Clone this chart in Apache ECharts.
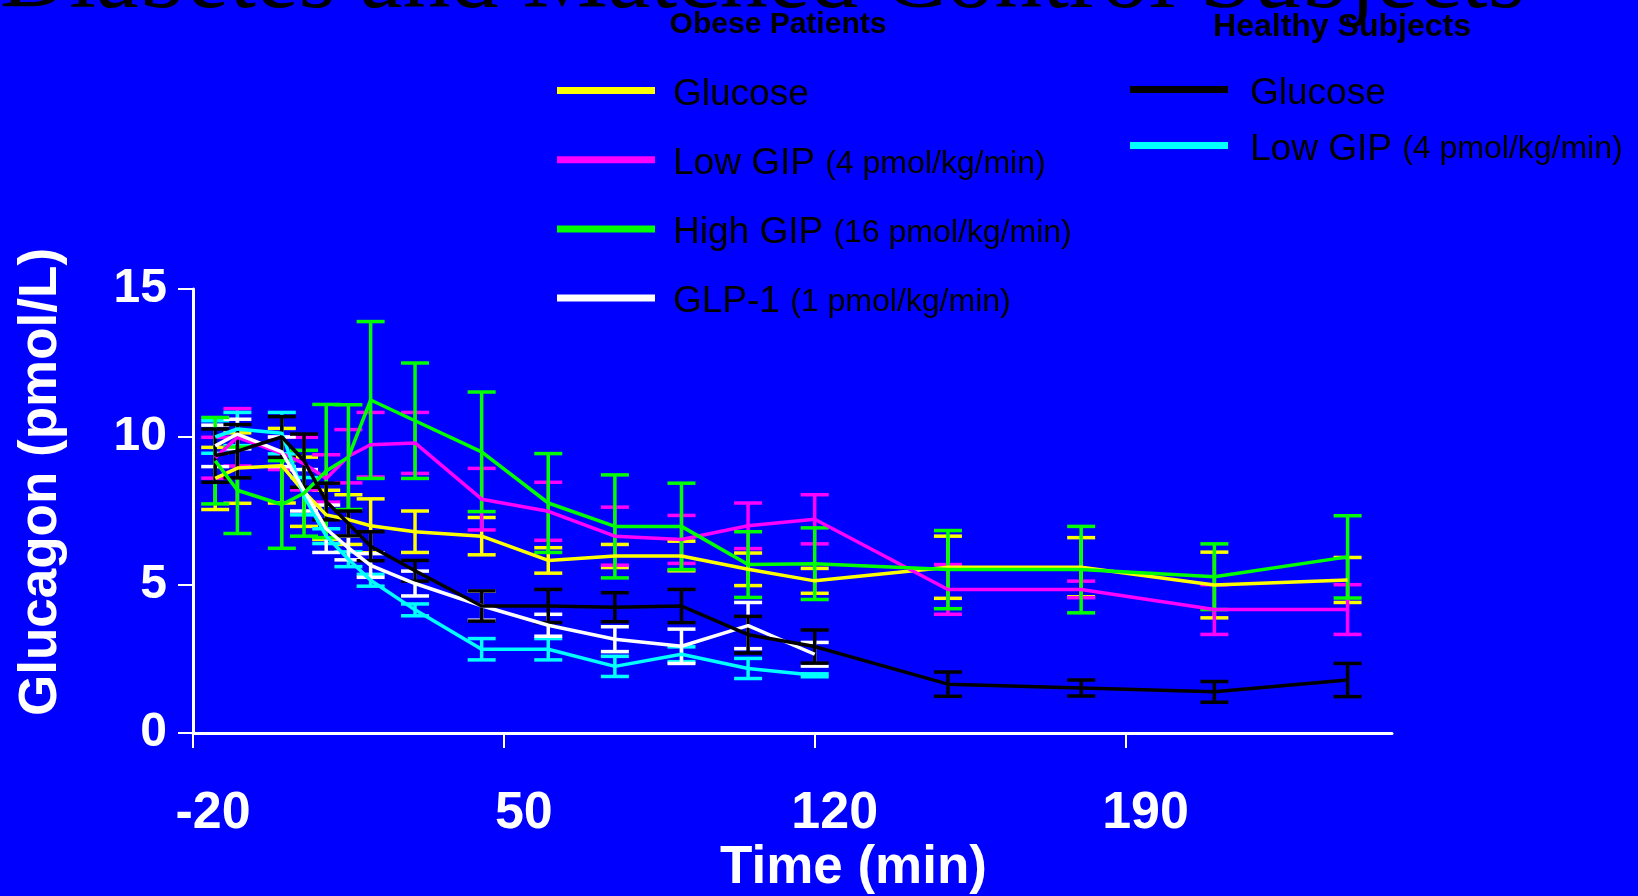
<!DOCTYPE html>
<html>
<head>
    <meta charset="utf-8">
    <title>Glucagon - Diabetes and Matched Control Subjects</title>
    <script src="https://cdn.jsdelivr.net/npm/echarts@6/dist/echarts.min.js"></script>
    <style>
        html, body { margin: 0; padding: 0; background: #0000ff; }
        #chart_div { width: 1638px; height: 896px; }
    </style>
</head>
<body>
    <div id="chart_div"></div>

    <script>
        // sampling times (min)
        const times = [-15, -10, 0, 5, 10, 15, 20, 30, 45, 60, 75, 90, 105, 120, 150, 180, 210, 240];
        const timesTo120 = [-15, -10, 0, 5, 10, 15, 20, 30, 45, 60, 75, 90, 105, 120];
        const xTicks = [-20, 50, 120, 190];
        const yTicks = [0, 5, 10, 15];

        // obese patients (mean and SEM, pmol/L)
        const obeseGlucose    = [8.6, 8.95, 9.03, 8.15, 7.37, 7.21, 7.0, 6.8, 6.65, 5.83, 5.98, 5.98, 5.53, 5.14, 5.6, 5.6, 5.0, 5.17];
        const obeseGlucoseSem = [1.05, 1.19, 1.26, 1.17, 0.83, 0.84, 0.91, 0.7, 0.63, 0.43, 0.39, 0.5, 0.55, 0.42, 1.05, 1.0, 1.11, 0.76];
        const obeseLowGip     = [9.3, 9.99, 9.45, 9.1, 8.6, 9.35, 9.74, 9.8, 7.9, 7.49, 6.65, 6.54, 7.0, 7.22, 4.85, 4.85, 4.17, 4.17];
        const obeseLowGipSem  = [0.69, 0.97, 0.55, 0.89, 0.8, 0.9, 1.09, 1.03, 1.04, 0.98, 0.98, 0.81, 0.77, 0.83, 0.84, 0.28, 0.84, 0.84];
        const obeseHighGip    = [9.2, 8.2, 7.72, 8.1, 8.85, 9.32, 11.25, 10.55, 9.5, 7.77, 6.98, 6.98, 5.69, 5.72, 5.52, 5.52, 5.28, 5.95];
        const obeseHighGipSem = [1.46, 1.46, 1.48, 1.45, 2.25, 1.77, 2.65, 1.95, 2.02, 1.67, 1.74, 1.46, 1.11, 1.21, 1.32, 1.46, 1.11, 1.39];
        const obeseGlp1       = [9.7, 10.1, 9.5, 8.2, 6.9, 6.25, 5.66, 5.05, 4.3, 3.64, 3.17, 2.93, 3.63, 2.66];
        const obeseGlp1Sem    = [0.7, 0.5, 0.5, 0.7, 0.8, 0.4, 0.4, 0.42, 0.49, 0.37, 0.42, 0.58, 0.78, 0.4];

        // healthy subjects
        const healthyGlucose    = [9.37, 9.52, 10.0, 9.2, 7.82, 7.08, 6.31, 5.48, 4.29, 4.29, 4.25, 4.29, 3.32, 2.92, 1.65, 1.52, 1.39, 1.79];
        const healthyGlucoseSem = [0.9, 0.9, 0.69, 0.9, 0.62, 0.42, 0.49, 0.35, 0.51, 0.56, 0.49, 0.56, 0.62, 0.56, 0.41, 0.27, 0.35, 0.56];
        const healthyLowGip     = [10.0, 10.27, 10.13, 8.0, 6.65, 5.87, 5.16, 4.16, 2.83, 2.83, 2.25, 2.66, 2.18, 1.95];
        const healthyLowGipSem  = [0.55, 0.56, 0.7, 0.63, 0.25, 0.25, 0.2, 0.2, 0.36, 0.36, 0.34, 0.25, 0.34, 0.05];

        // legend labels
        const obeseLabels   = ['Glucose', 'Low GIP', 'High GIP', 'GLP-1'];
        const obeseDoses    = ['', '(4 pmol/kg/min)', '(16 pmol/kg/min)', '(1 pmol/kg/min)'];
        const healthyLabels = ['Glucose', 'Low GIP'];
        const healthyDoses  = ['', '(4 pmol/kg/min)'];

        const sans = 'Arial, "Liberation Sans", Helvetica, sans-serif';
        const serif = 'Liberation Serif';

        const groups = [
            { name: 'Obese: Glucose',   label: obeseLabels[0], dose: obeseDoses[0], x: times,      y: obeseGlucose,   sem: obeseGlucoseSem,   color: '#ffff00' },
            { name: 'Obese: Low GIP',   label: obeseLabels[1], dose: obeseDoses[1], x: times,      y: obeseLowGip,    sem: obeseLowGipSem,    color: '#ff00ff' },
            { name: 'Healthy: Low GIP', label: healthyLabels[1], dose: healthyDoses[1], x: timesTo120, y: healthyLowGip, sem: healthyLowGipSem, color: '#00ffff' },
            { name: 'Obese: GLP-1',     label: obeseLabels[3], dose: obeseDoses[3], x: timesTo120, y: obeseGlp1,      sem: obeseGlp1Sem,      color: '#ffffff' },
            { name: 'Obese: High GIP',  label: obeseLabels[2], dose: obeseDoses[2], x: times,      y: obeseHighGip,   sem: obeseHighGipSem,   color: '#00ff00' },
            { name: 'Healthy: Glucose', label: healthyLabels[0], dose: healthyDoses[0], x: times,  y: healthyGlucose, sem: healthyGlucoseSem, color: '#000000' }
        ];

        const labelByName = {};
        groups.forEach(g => { labelByName[g.name] = g; });

        function legendText(name) {
            const g = labelByName[name];
            return g.dose ? '{n|' + g.label + ' }{d|' + g.dose + '}' : '{n|' + g.label + '}';
        }

        function errorBarItem(params, api) {
            const x = api.value(0);
            const lo = api.coord([x, api.value(1)]);
            const hi = api.coord([x, api.value(2)]);
            const color = api.visual('color');
            const half = 14;
            const style = { stroke: color, lineWidth: 3.5 };
            return {
                type: 'group',
                children: [
                    { type: 'line', shape: { x1: lo[0], y1: lo[1], x2: hi[0], y2: hi[1] }, style: style },
                    { type: 'line', shape: { x1: lo[0] - half, y1: lo[1], x2: lo[0] + half, y2: lo[1] }, style: style },
                    { type: 'line', shape: { x1: hi[0] - half, y1: hi[1], x2: hi[0] + half, y2: hi[1] }, style: style }
                ]
            };
        }

        const series = [];
        groups.forEach(g => {
            series.push({
                name: g.name + ' SEM',
                type: 'custom',
                renderItem: errorBarItem,
                itemStyle: { color: g.color },
                encode: { x: 0, y: [1, 2] },
                data: g.x.map((t, i) => [t, g.y[i] - g.sem[i], g.y[i] + g.sem[i]]),
                z: 2
            });
            series.push({
                name: g.name,
                type: 'line',
                symbol: 'none',
                itemStyle: { color: g.color },
                lineStyle: { color: g.color, width: 3.5 },
                data: g.x.map((t, i) => [t, g.y[i]]),
                z: 2
            });
        });

        function legendStyle(leftPad) {
            return {
                color: '#000',
                fontFamily: sans,
                padding: [8, 0, 0, leftPad],
                rich: {
                    n: { fontSize: 37, lineHeight: 40, fontFamily: sans, color: '#000' },
                    d: { fontSize: 32, lineHeight: 40, fontFamily: sans, color: '#000' }
                }
            };
        }

        const myChart = echarts.init(document.getElementById('chart_div'));

        const option = {
            backgroundColor: '#0000ff',
            animation: false,
            title: [
                {
                    text: 'Diabetes and Matched Control Subjects',
                    left: 0,
                    top: -66,
                    padding: 0,
                    textStyle: { color: '#000', fontSize: 96, fontWeight: 'normal', fontFamily: serif }
                },
                {
                    text: 'Obese Patients',
                    left: 778,
                    textAlign: 'center',
                    top: 10,
                    padding: 0,
                    textStyle: { color: '#000', fontSize: 30, fontWeight: 'bold', fontFamily: sans }
                },
                {
                    text: 'Healthy Subjects',
                    left: 1342,
                    textAlign: 'center',
                    top: 11,
                    padding: 0,
                    textStyle: { color: '#000', fontSize: 32, fontWeight: 'bold', fontFamily: sans }
                }
            ],
            legend: [
                {
                    data: ['Obese: Glucose', 'Obese: Low GIP', 'Obese: High GIP', 'Obese: GLP-1'],
                    orient: 'vertical',
                    left: 557,
                    top: 76,
                    itemGap: 32.2,
                    icon: 'rect',
                    itemWidth: 98,
                    itemHeight: 7,
                    padding: 0,
                    formatter: legendText,
                    textStyle: legendStyle(13)
                },
                {
                    data: ['Healthy: Glucose', 'Healthy: Low GIP'],
                    orient: 'vertical',
                    left: 1130,
                    top: 75,
                    itemGap: 19,
                    icon: 'rect',
                    itemWidth: 98,
                    itemHeight: 7,
                    padding: 0,
                    formatter: legendText,
                    textStyle: legendStyle(17)
                }
            ],
            grid: {
                left: 193,
                right: 246,
                top: 289,
                bottom: 162
            },
            xAxis: {
                type: 'value',
                min: -20,
                max: 250,
                interval: 70,
                name: 'Time (min)',
                nameLocation: 'middle',
                nameGap: 109,
                nameTextStyle: { color: '#fff', fontSize: 53, fontWeight: 'bold', fontFamily: sans, padding: [0, 0, 0, 122] },
                axisLine: { show: true, onZero: false, lineStyle: { color: '#fff', width: 3 } },
                axisTick: { show: true, length: 15, customValues: xTicks, lineStyle: { color: '#fff', width: 2 } },
                axisLabel: {
                    customValues: xTicks,
                    color: '#fff',
                    fontSize: 52,
                    fontWeight: 'bold',
                    fontFamily: sans,
                    margin: 55,
                    padding: [0, 0, 0, 40]
                },
                splitLine: { show: false }
            },
            yAxis: {
                type: 'value',
                min: 0,
                max: 15,
                interval: 5,
                name: 'Glucagon (pmol/L)',
                nameLocation: 'middle',
                nameRotate: 90,
                nameGap: 125,
                nameTextStyle: { color: '#fff', fontSize: 53, fontWeight: 'bold', fontFamily: sans, padding: [0, 0, 0, 58] },
                axisLine: { show: true, onZero: false, lineStyle: { color: '#fff', width: 3 } },
                axisTick: { show: true, length: 15, customValues: yTicks, lineStyle: { color: '#fff', width: 2 } },
                axisLabel: {
                    customValues: yTicks,
                    color: '#fff',
                    fontSize: 48,
                    fontWeight: 'bold',
                    fontFamily: sans,
                    margin: 26
                },
                splitLine: { show: false }
            },
            series: series
        };

        myChart.setOption(option);

        window.addEventListener('resize', () => {
            myChart.resize();
        });
    </script>
</body>
</html>
